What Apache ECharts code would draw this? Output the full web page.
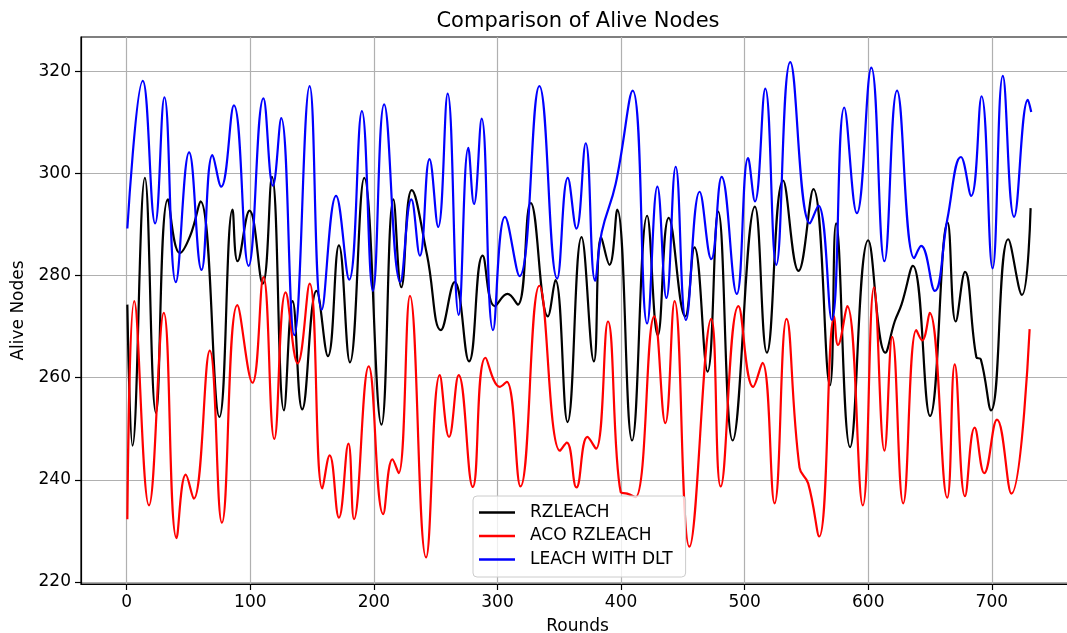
<!DOCTYPE html>
<html>
<head>
<meta charset="utf-8">
<script src="https://cdn.jsdelivr.net/npm/echarts@6/dist/echarts.min.js"></script>
<style>
html,body{margin:0;padding:0;background:#fff;}
#chart{width:1067px;height:633px;}
</style>
</head>
<body>
<div id="chart"></div>
<script>
// Data: [round, alive nodes]
const rzleach = [[0.5,274.3],[4.7,246.7],[14.7,299.1],[23.6,253.1],[33.3,294.9],[43,284.4],[51.4,287.8],[59.7,294.5],[75,252.3],[85.6,292.9],[89.7,282.8],[99.4,292.7],[110,278.4],[117.5,299.3],[127.2,253.6],[134.2,275],[142,253.8],[153.6,277],[162.8,264.2],[171.7,285.9],[180.6,263],[192.2,299.1],[206.1,250.8],[215.8,294.9],[222.2,277.7],[230.6,296.7],[243,284],[254.2,269.3],[265.3,278.7],[277,263.2],[288,283.9],[297.8,274],[308.1,276.4],[316.4,274.3],[326.9,294.2],[340.8,272],[346.9,279.1],[356.7,251.3],[368,287.5],[378,263.2],[383.9,287.5],[390.6,282.1],[396.9,292.9],[408.9,247.7],[421.1,291.7],[429.7,268.3],[438.6,291.3],[451.9,272],[459.4,285.5],[470,261.2],[478.6,292.5],[490.3,247.7],[508.3,293.5],[518,264.9],[531.1,298.6],[543.6,280.9],[555.6,296.9],[569,258.5],[574,290.2],[585.3,246.4],[600,286.9],[613.9,264.9],[621.4,271],[626.9,274.3],[636.1,281.9],[650,252.5],[664.2,290.4],[670.8,271],[678.3,280.7],[687.5,264],[691.1,263.6],[699.4,253.6],[713.3,287.1],[724.4,276.2],[731.4,293.2]];
const acoRzleach = [[0.5,232.3],[6.1,275],[18,235],[30,272.7],[40.3,228.6],[47.8,241],[54.2,236.3],[67.2,265.3],[77,231.6],[89.5,274.2],[101.7,259],[110.6,279.7],[119.4,248],[128.6,276.7],[138.3,262.8],[148,278.4],[158.3,238.3],[164.2,244.8],[171.7,232.6],[179.4,247.1],[183.9,232.3],[195.8,262.2],[207.5,233.3],[215,244],[220,241.3],[229.2,276],[242.2,224.8],[253.3,260.5],[260.8,248.4],[268.6,260.5],[280,238.6],[290.3,263.9],[302,258.2],[307.5,259.2],[318.6,238.7],[333.9,278],[350.6,245.7],[356.1,247.3],[363.9,238.5],[372.8,248.4],[379.7,246.1],[389.4,271],[399.7,237.6],[405,237.3],[411.7,236.6],[426.9,272],[435.8,251.1],[443.3,275],[455.3,226.9],[473,271.5],[480.6,238.7],[495,274],[506.9,258.2],[514.4,262.9],[524.2,235.4],[533.9,271.5],[544.4,242.4],[551.4,239.3],[560.3,228.9],[572.5,272],[575.5,266.4],[583,274],[595.6,235],[604.7,277.7],[613.1,245.7],[619.4,268],[628.3,235.4],[638.9,269.3],[643.6,267.3],[649.7,272.7],[663.9,236.5],[670,262.6],[678.3,236.8],[686.1,250.2],[693.9,241.3],[704.2,251.8],[715.8,237.3],[730.6,269.5]];
const leachDlt = [[0.5,289.2],[13,318.1],[23,290.2],[30.5,314.9],[39.7,278.7],[50.5,304.1],[60.5,281.1],[69.4,303.6],[76.4,297.4],[86.7,313.3],[98.6,281.9],[110.6,314.7],[118.3,297.6],[125,310.8],[135.6,268.3],[148,317.1],[157.8,273.3],[169.4,295.6],[180,279.2],[190.3,312.2],[199.2,277],[208.3,313.5],[221.4,278.7],[230.3,294.9],[237.2,283.9],[245,302.8],[252,289.5],[259.7,315.6],[268.6,272.3],[276.4,305],[281,294],[287.2,310.7],[296.4,269.3],[306.1,291.5],[317.8,279.9],[333.9,317.1],[348.3,279.4],[356.9,299.1],[363.9,289.2],[371.4,305.9],[379,279],[384.4,288.5],[395.6,297.9],[409.4,316.2],[421.1,270.6],[429.4,297.4],[436.7,275.6],[444.2,301.3],[452.5,271.3],[463.6,296.4],[473,283.2],[481.4,299.3],[493.6,276.4],[502.8,303],[508.3,294.5],[516.7,316.6],[525.6,282.1],[536.9,321.8],[552.8,290.2],[559.7,293.7],[570.5,271.3],[580.6,312.9],[590.8,292.2],[602.5,320.7],[613.1,282.8],[623.3,316.2],[637.2,283.4],[642.8,285.8],[653.9,277],[664,291],[675,303.2],[683.3,295.6],[691.7,315.1],[700.6,281.4],[708.9,319.1],[718,291.5],[729.2,314.4],[731.9,312]];

const seriesNames = ['RZLEACH', 'ACO RZLEACH', 'LEACH WITH DLT'];
const seriesColors = ['#000000', '#ff0000', '#0000ff'];
const xTicks = [0, 100, 200, 300, 400, 500, 600, 700];
const yTicks = [220, 240, 260, 280, 300, 320];

const FONT = 'DejaVu Sans';
const chart = echarts.init(document.getElementById('chart'), null, {renderer: 'canvas'});
const mk = (name, data, color) => ({
  name: name, type: 'line', data: data, smooth: 0.45,
  symbol: 'none', showSymbol: false,
  lineStyle: {color: color, width: 2.2}, itemStyle: {color: color},
  emphasis: {disabled: true}
});
chart.setOption({
  animation: false,
  backgroundColor: '#ffffff',
  title: {
    text: 'Comparison of Alive Nodes', left: 573, top: 6, textAlign: 'center',
    textStyle: {fontFamily: FONT, fontSize: 21, fontWeight: 'normal', color: '#000'}
  },
  grid: {left: 81, right: -7, top: 37, bottom: 49, outerBoundsMode: 'none', containLabel: false,
         show: true, borderColor: '#000', borderWidth: 1.2, backgroundColor: 'transparent'},
  legend: {
    orient: 'vertical', left: 473, top: 496,
    icon: 'rect', itemWidth: 36, itemHeight: 2.5, itemGap: 6.5,
    padding: [8, 13, 9, 6],
    backgroundColor: 'rgba(255,255,255,0.8)', borderColor: '#cccccc', borderWidth: 1, borderRadius: 4,
    textStyle: {fontFamily: FONT, fontSize: 17, color: '#000', padding: [0, 0, 0, 10]},
    data: seriesNames
  },
  xAxis: {
    type: 'value', min: -37, max: 766.5, splitNumber: 8,
    name: 'Rounds', nameLocation: 'middle', nameGap: 34,
    nameTextStyle: {fontFamily: FONT, fontSize: 17, color: '#000'},
    axisLine: {show: true, onZero: false, lineStyle: {color: '#000', width: 1.2}},
    axisTick: {show: true, inside: false, length: 6, customValues: xTicks, lineStyle: {color: '#000', width: 1.2}},
    axisLabel: {customValues: xTicks, margin: 10, fontFamily: FONT, fontSize: 17, color: '#000'},
    splitLine: {show: true, lineStyle: {color: '#b0b0b0', width: 1.2}}
  },
  yAxis: {
    type: 'value', min: 219.6, max: 326.7, splitNumber: 5,
    name: 'Alive Nodes', nameLocation: 'middle', nameGap: 54,
    nameTextStyle: {fontFamily: FONT, fontSize: 17, color: '#000'},
    axisLine: {show: true, onZero: false, lineStyle: {color: '#000', width: 1.2}},
    axisTick: {show: true, inside: false, length: 6, customValues: yTicks, lineStyle: {color: '#000', width: 1.2}},
    axisLabel: {customValues: yTicks, margin: 10, fontFamily: FONT, fontSize: 17, color: '#000'},
    splitLine: {show: true, lineStyle: {color: '#b0b0b0', width: 1.2}}
  },
  series: [
    mk(seriesNames[0], rzleach, seriesColors[0]),
    mk(seriesNames[1], acoRzleach, seriesColors[1]),
    mk(seriesNames[2], leachDlt, seriesColors[2])
  ]
});
</script>
</body>
</html>
